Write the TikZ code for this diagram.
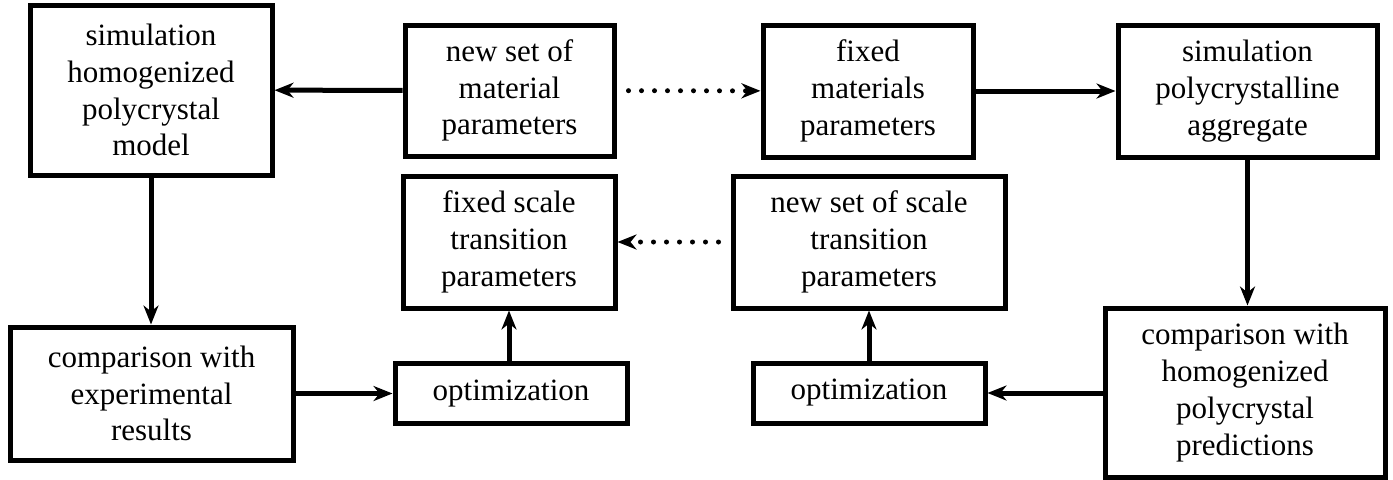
\documentclass[tikz,border=0pt]{standalone}
\usepackage{fontspec}
\setmainfont{LiberationSerif}[Extension=.ttf, UprightFont=*-Regular, BoldFont=*-Bold]
\usetikzlibrary{arrows.meta}

\begin{document}
\begin{tikzpicture}[x=0.5pt, y=-0.5pt, line width=2.5pt,
	box/.style={rectangle, draw, align=center, inner sep=0pt, font=\rmfamily\fontsize{15.5}{18.4}\selectfont},
	flow/.style={-{Stealth[length=9.5pt, width=7.5pt, inset=3pt]}},
	dots/.style={flow, line cap=round, dash pattern=on 0pt off 6.5pt, shorten <=6pt}]
	\useasboundingbox (0,0) rectangle (1393,479);

	% top row
	\node[box, minimum width=121pt, minimum height=85pt] (simhom) at (151,90) {simulation\\homogenized\\polycrystal\\model};
	\node[box, minimum width=104.5pt, minimum height=65.5pt] (newmat) at (509.5,90.5) {new set of\\material\\parameters};
	\node[box, minimum width=105pt, minimum height=66pt] (fixmat) at (868,91) {fixed\\materials\\parameters};
	\node[box, minimum width=129.5pt, minimum height=66pt] (simpoly) at (1247.5,91) {simulation\\polycrystalline\\aggregate};

	% middle row
	\node[box, minimum width=106pt, minimum height=66pt] (fixscale) at (509,242) {fixed scale\\transition\\parameters};
	\node[box, minimum width=136pt, minimum height=66pt] (newscale) at (869,242) {new set of scale\\transition\\parameters};

	% bottom row
	\node[box, minimum width=141.5pt, minimum height=66.5pt] (compexp) at (151.5,393.5) {comparison with\\experimental\\results};
	\node[box, minimum width=116pt, minimum height=30pt] (optl) at (511,393.5) {optimization};
	\node[box, minimum width=116pt, minimum height=30pt] (optr) at (869,393) {optimization};
	\node[box, minimum width=140pt, minimum height=84.5pt] (comphom) at (1245,392.5) {comparison with\\homogenized\\polycrystal\\predictions};

	\draw[flow] (newmat) -- (simhom);
	\draw[dots] (newmat) -- (fixmat);
	\draw[flow] (fixmat) -- (simpoly);
	\draw[flow] (simpoly.south) -- (simpoly.south |- comphom.north);
	\draw[flow] (comphom.west |- optr) -- (optr);
	\draw[flow] (optr) -- (newscale);
	\draw[dots] (newscale) -- (fixscale);
	\draw[flow] (simhom) -- (simhom |- compexp.north);
	\draw[flow] (compexp) -- (optl);
	\draw[flow] (optl.north -| fixscale) -- (fixscale);
\end{tikzpicture}
\end{document}
